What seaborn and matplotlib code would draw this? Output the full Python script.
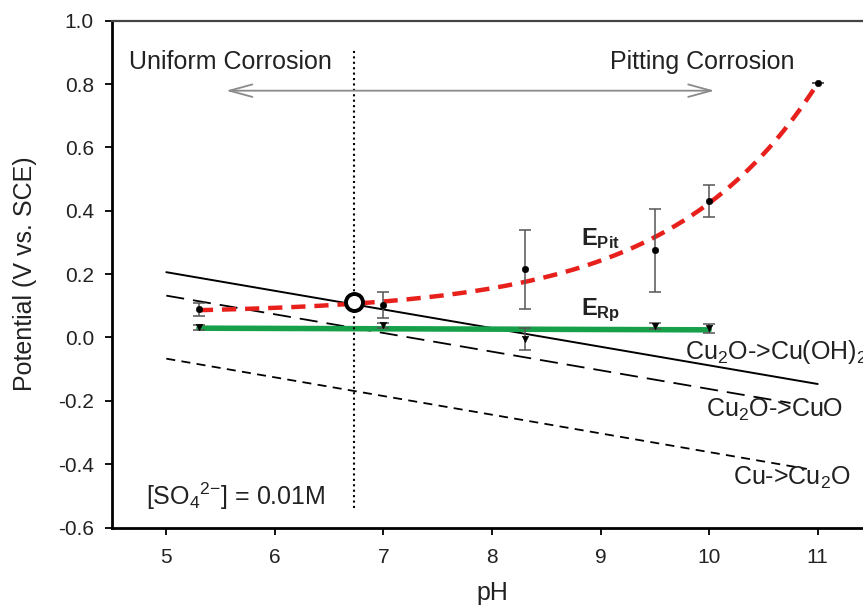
import numpy as np
import pandas as pd
import matplotlib
matplotlib.use("Agg")
import matplotlib.pyplot as plt
import seaborn as sns

# Pitting potential E_pit (V vs. SCE) against pH, with standard deviations
ph_pit = [5.3, 7.0, 8.3, 9.5, 10.0, 11.0]
e_pit = [0.089, 0.102, 0.215, 0.275, 0.431, 0.802]
e_pit_err = [0.02, 0.04, 0.125, 0.132, 0.051, 0.0]

# Repassivation potential E_Rp (V vs. SCE) against pH
ph_rp = [5.3, 7.0, 8.3, 9.5, 10.0]
e_rp = [0.032, 0.039, -0.006, 0.037, 0.029]
e_rp_err = [0.008, 0.008, 0.035, 0.01, 0.015]

# Equilibrium lines (end points: pH, potential)
cu2o_cuoh2_ph = [5.0, 11.0]
cu2o_cuoh2_e = [0.206, -0.147]
cu2o_cuo_ph = [5.0, 10.75]
cu2o_cuo_e = [0.132, -0.207]
cu_cu2o_ph = [5.0, 10.9]
cu_cu2o_e = [-0.067, -0.415]

# Transition between uniform and pitting corrosion
ph_trans = 6.73
e_trans = 0.111

x_ticks = [5, 6, 7, 8, 9, 10, 11]
y_ticks = [-0.6, -0.4, -0.2, 0.0, 0.2, 0.4, 0.6, 0.8, 1.0]

sns.set_style("ticks")
plt.rcParams["font.family"] = ["Liberation Sans", "DejaVu Sans"]
plt.rcParams["mathtext.fontset"] = "custom"
plt.rcParams["mathtext.rm"] = "Liberation Sans"
plt.rcParams["mathtext.it"] = "Liberation Sans:italic"
plt.rcParams["mathtext.bf"] = "Liberation Sans:bold"

fig = plt.figure(figsize=(8.63, 6.08), dpi=100)
ax = fig.add_axes([0.1298, 0.1324, 0.8806, 0.8336])

txt = "#222222"

# Equilibrium lines
sns.lineplot(x=cu2o_cuoh2_ph, y=cu2o_cuoh2_e, ax=ax, color="black", lw=1.4)
sns.lineplot(x=cu2o_cuo_ph, y=cu2o_cuo_e, ax=ax, color="black", lw=1.3,
             linestyle=(0, (10, 5)))
sns.lineplot(x=cu_cu2o_ph, y=cu_cu2o_e, ax=ax, color="black", lw=1.3,
             linestyle=(0, (5, 3.5)))

# Exponential trend y = a + b*exp(c*(pH - pH0)) for E_pit,
# weighted by the measurement scatter (chi-square style)
xp = np.asarray(ph_pit)
yp = np.asarray(e_pit)
w = 1.0 / np.sqrt(np.asarray(e_pit_err) ** 2 + 0.02 ** 2)
best = None
for c in np.linspace(0.05, 2.0, 1951):
    A = np.column_stack([np.ones_like(xp), np.exp(c * (xp - xp.min()))])
    coef = np.linalg.lstsq(A * w[:, None], yp * w, rcond=None)[0]
    r = np.sum(((A @ coef - yp) * w) ** 2)
    if best is None or r < best[0]:
        best = (r, c, coef)
_, c_fit, (a_fit, b_fit) = best
xs = np.linspace(xp.min(), xp.max(), 300)
fit_df = pd.DataFrame({"pH": xs, "E": a_fit + b_fit * np.exp(c_fit * (xs - xp.min()))})
sns.lineplot(data=fit_df, x="pH", y="E", ax=ax, color="#e8201c", lw=3.2,
             linestyle=(0, (3.2, 2.0)))

# Linear trend for E_Rp
k, m = np.polyfit(ph_rp, e_rp, 1)
rp_df = pd.DataFrame({"pH": [min(ph_rp), max(ph_rp)]})
rp_df["E"] = k * rp_df["pH"] + m
sns.lineplot(data=rp_df, x="pH", y="E", ax=ax, color="#16a04a", lw=4.0)

# Measured points with error bars
ax.errorbar(ph_pit, e_pit, yerr=e_pit_err, fmt="none", ecolor="#555555",
            elinewidth=1.1, capsize=4, capthick=1.1, zorder=4)
ax.errorbar(ph_rp, e_rp, yerr=e_rp_err, fmt="none", ecolor="#555555",
            elinewidth=1.1, capsize=4, capthick=1.1, zorder=4)
sns.scatterplot(x=ph_pit, y=e_pit, ax=ax, color="black", s=22,
                edgecolor="black", zorder=5)
sns.scatterplot(x=ph_rp, y=e_rp, ax=ax, color="black", s=22, marker="v",
                edgecolor="black", zorder=5)

# Transition marker and boundary
ax.plot([ph_trans, ph_trans], [-0.54, 0.91], color="black", lw=1.5,
        linestyle=(0, (1, 1.6)), zorder=2)
sns.scatterplot(x=[ph_trans], y=[e_trans], ax=ax, s=150, color="white",
                edgecolor="black", linewidth=2.8, zorder=6)

ax.annotate("", xy=(5.55, 0.779), xytext=(10.05, 0.779),
            arrowprops=dict(arrowstyle="<->,head_length=1.1,head_width=0.3",
                            color="#8a8a8a", lw=1.3, mutation_scale=15,
                            shrinkA=0, shrinkB=0))

fs = 18
ax.text(4.66, 0.869, "Uniform Corrosion", fontsize=fs, color=txt, va="center", ha="left")
ax.text(9.94, 0.869, "Pitting Corrosion", fontsize=fs, color=txt, va="center", ha="center")
ax.text(8.82, 0.29, r"$\mathbf{E}_{\mathbf{Pit}}$", fontsize=17, color=txt, va="baseline")
ax.text(8.82, 0.071, r"$\mathbf{E}_{\mathbf{Rp}}$", fontsize=17, color=txt, va="baseline")
ax.text(9.78, -0.046, r"Cu$_2$O->Cu(OH)$_2$", fontsize=fs, color=txt, va="center", ha="left")
ax.text(9.97, -0.23, r"Cu$_2$O->CuO", fontsize=fs, color=txt, va="center", ha="left")
ax.text(10.22, -0.444, r"Cu->Cu$_2$O", fontsize=fs, color=txt, va="center", ha="left")
ax.text(4.81, -0.50, r"[SO$_4$$^{2\mathrm{-}}$] = 0.01M", fontsize=fs, color=txt,
        va="center", ha="left")

ax.set_xlim(4.5, 11.5)
ax.set_ylim(-0.6, 1.0)
ax.set_xticks(x_ticks)
ax.set_yticks(y_ticks)
ax.set_xticklabels([str(v) for v in x_ticks])
ax.set_yticklabels([f"{v:.1f}" for v in y_ticks])
ax.tick_params(axis="both", labelsize=15, length=5, width=1.3,
               colors="black", labelcolor=txt, direction="out")
ax.tick_params(axis="x", pad=10)
ax.tick_params(axis="y", pad=8)
ax.set_xlabel("pH", fontsize=fs, color=txt, labelpad=10)
ax.set_ylabel("Potential (V vs. SCE)", fontsize=fs, color=txt, labelpad=15)

for side in ["left", "bottom"]:
    ax.spines[side].set_linewidth(2.0)
    ax.spines[side].set_color("black")
ax.spines["top"].set_linewidth(1.6)
ax.spines["top"].set_color("#444444")
ax.spines["right"].set_linewidth(1.6)

fig.savefig("out.png", dpi=100)
